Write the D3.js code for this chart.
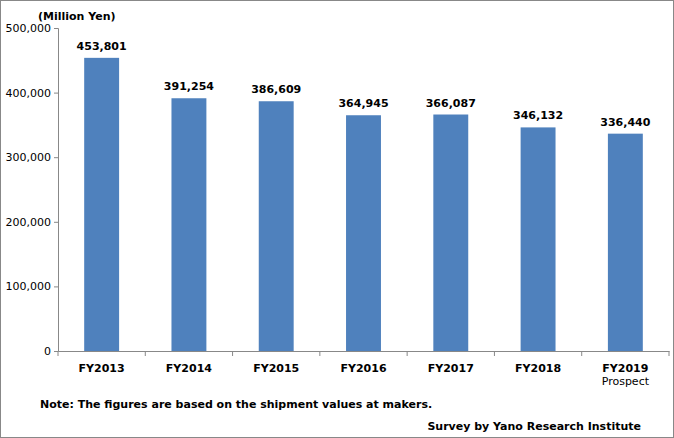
<!DOCTYPE html>
<html><head><meta charset="utf-8">
<script src="https://cdn.jsdelivr.net/npm/d3@7"></script>
<style>body{margin:0;background:#fff}text{font-family:"DejaVu Sans",sans-serif;font-weight:bold;fill:#000}</style>
</head><body><svg id="c" width="674" height="438"></svg>
<script>
const categories=["FY2013","FY2014","FY2015","FY2016","FY2017","FY2018","FY2019"];
const values=[453801,391254,386609,364945,366087,346132,336440];
const ticks=[0,100000,200000,300000,400000,500000];
const svg=d3.select("#c");
svg.append("rect").attr("x",0.5).attr("y",0.5).attr("width",673).attr("height",437).attr("fill","#fff").attr("stroke","#888");
const x=d3.scaleBand().domain(categories).range([58,669]).paddingInner(0.6).paddingOuter(0.3);
const xb=d3.scaleBand().domain(categories).range([58,669]);
const y=d3.scaleLinear().domain([0,500000]).range([351,28]);
const ya=svg.append("g").attr("transform","translate(58,0)").call(d3.axisLeft(y).tickValues(ticks).tickFormat(d3.format(",")).tickSize(4));
ya.selectAll("text").style("font-size","11px").style("font-weight","normal");
ya.select(".domain").attr("stroke","#888");ya.selectAll("line").attr("stroke","#888");
const xa=svg.append("g").attr("transform","translate(0,351)").call(d3.axisBottom(xb).tickSize(0).tickFormat(""));
xa.select(".domain").attr("stroke","#888");
xb.domain().forEach((c,i)=>{svg.append("line").attr("x1",xb(c)+xb.bandwidth()).attr("x2",xb(c)+xb.bandwidth()).attr("y1",351).attr("y2",356).attr("stroke","#888");});
svg.append("line").attr("x1",58).attr("x2",58).attr("y1",351).attr("y2",356).attr("stroke","#888");
svg.selectAll("rect.bar").data(values).enter().append("rect").attr("class","bar")
 .attr("x",(d,i)=>x(categories[i])).attr("width",x.bandwidth()).attr("y",d=>y(d)).attr("height",d=>351-y(d)).attr("fill","#4F81BD");
svg.selectAll("text.v").data(values).enter().append("text").attr("class","v")
 .attr("x",(d,i)=>x(categories[i])+x.bandwidth()/2).attr("y",d=>y(d)-8).attr("text-anchor","middle").style("font-size","11px").text(d3.format(","));
categories.forEach((c,i)=>{svg.append("text").attr("x",xb(c)+xb.bandwidth()/2).attr("y",372).attr("text-anchor","middle").style("font-size","11px").text(c);});
svg.append("text").attr("x",xb("FY2019")+xb.bandwidth()/2).attr("y",385).attr("text-anchor","middle").style("font-size","11px").style("font-weight","normal").text("Prospect");
svg.append("text").attr("x",38).attr("y",20).style("font-size","11px").text("(Million Yen)");
svg.append("text").attr("x",40).attr("y",408).style("font-size","11px").text("Note: The figures are based on the shipment values at makers.");
svg.append("text").attr("x",641).attr("y",430).attr("text-anchor","end").style("font-size","11px").text("Survey by Yano Research Institute");
</script></body></html>
